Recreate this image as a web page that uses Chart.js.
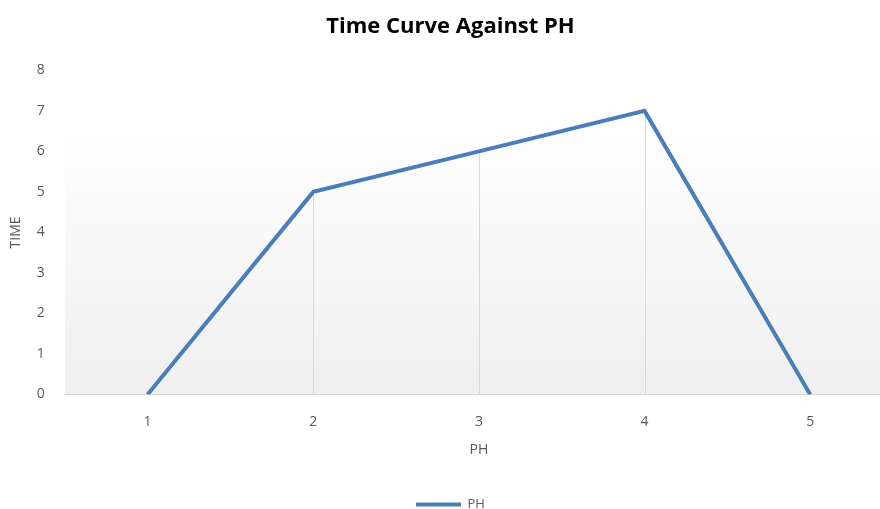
<!DOCTYPE html>
<html>
<head>
<meta charset="utf-8">
<script src="https://cdn.jsdelivr.net/npm/chart.js@4.4.1/dist/chart.umd.min.js"></script>
<style>
  html, body { margin: 0; padding: 0; background: #fff; overflow: hidden; }
  #wrap { width: 893px; height: 509px; }
</style>
</head>
<body>
<div id="wrap"><canvas id="myChart"></canvas></div>
<script>
const categories = ['1', '2', '3', '4', '5'];
const timeValues = [0, 5, 6, 7, 0];
const yTicks = [0, 1, 2, 3, 4, 5, 6, 7, 8];

const lineBlue = '#4a7ebb';
const fontFamily = "'Open Sans', 'Liberation Sans', sans-serif";

// soft gray gradient behind the plot area
const plotBackground = {
    id: 'plotBackground',
    beforeDraw(chart) {
        const { ctx, chartArea } = chart;
        const g = ctx.createLinearGradient(0, chartArea.top, 0, chartArea.bottom);
        g.addColorStop(0, '#ffffff');
        g.addColorStop(0.15, '#ffffff');
        g.addColorStop(1, '#efefef');
        ctx.save();
        ctx.fillStyle = g;
        ctx.fillRect(chartArea.left, chartArea.top, chartArea.right - chartArea.left, chartArea.bottom - chartArea.top);
        ctx.restore();
    }
};

// vertical drop lines from each point to the axis
const dropLines = {
    id: 'dropLines',
    beforeDatasetsDraw(chart) {
        const { ctx, chartArea } = chart;
        const meta = chart.getDatasetMeta(0);
        ctx.save();
        ctx.strokeStyle = '#d9d9d9';
        ctx.lineWidth = 1;
        meta.data.forEach(pt => {
            const x = Math.round(pt.x) + 0.5;
            ctx.beginPath();
            ctx.moveTo(x, pt.y);
            ctx.lineTo(x, chartArea.bottom);
            ctx.stroke();
        });
        ctx.restore();
    }
};

const ctx = document.getElementById('myChart').getContext('2d');
const myChart = new Chart(ctx, {
    type: 'line',
    data: {
        labels: categories,
        datasets: [{
            label: 'PH',
            data: timeValues,
            borderColor: lineBlue,
            backgroundColor: lineBlue,
            borderWidth: 4,
            pointRadius: 0,
            tension: 0
        }]
    },
    options: {
        responsive: true,
        maintainAspectRatio: false,
        animation: false,
        layout: { padding: { left: 8, right: 0, top: 0, bottom: -12 } },
        plugins: {
            title: {
                display: true,
                text: 'Time Curve Against PH',
                color: '#000',
                font: { family: fontFamily, size: 22, weight: 'bold' },
                padding: { top: 14, bottom: 30 }
            },
            legend: {
                position: 'bottom',
                labels: {
                    color: '#595959',
                    font: { family: fontFamily, size: 13 },
                    boxWidth: 45,
                    boxHeight: 4,
                    padding: 4,
                    generateLabels: () => [{
                        text: 'PH',
                        fillStyle: lineBlue,
                        strokeStyle: lineBlue,
                        lineWidth: 0,
                        fontColor: '#595959',
                        datasetIndex: 0
                    }]
                }
            },
            tooltip: { enabled: false }
        },
        scales: {
            x: {
                offset: true,
                grid: { display: false, offset: true },
                border: { color: '#d9d9d9', width: 1 },
                ticks: { color: '#595959', font: { family: fontFamily, size: 14 }, padding: 11 },
                title: {
                    display: true,
                    text: 'PH',
                    color: '#595959',
                    font: { family: fontFamily, size: 14 },
                    padding: { top: 0, bottom: 36 }
                }
            },
            y: {
                min: 0,
                max: 8,
                grid: { display: false },
                border: { display: false },
                afterBuildTicks(scale) {
                    scale.ticks = yTicks.map(v => ({ value: v }));
                },
                ticks: { color: '#595959', font: { family: fontFamily, size: 14 }, padding: 12 },
                title: {
                    display: true,
                    text: 'TIME',
                    color: '#595959',
                    font: { family: fontFamily, size: 14 },
                    padding: { top: 0, bottom: 0 }
                }
            }
        }
    },
    plugins: [plotBackground, dropLines]
});
</script>
</body>
</html>
